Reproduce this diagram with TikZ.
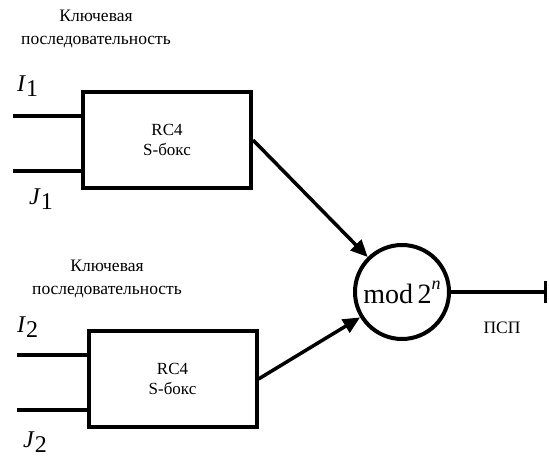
\documentclass[tikz,border=0pt]{standalone}
\usepackage{fontspec}
\setmainfont{Liberation Serif}
\usetikzlibrary{arrows.meta}
\begin{document}
\begin{tikzpicture}[x=1pt,y=-1pt,
  blk/.style={draw,line width=4pt,rectangle,minimum width=168pt,minimum height=96pt,inner sep=0pt,align=center,font=\fontsize{17}{20}\selectfont},
  lbl/.style={align=center,font=\fontsize{17.5}{23}\selectfont,inner sep=0pt},
  inp/.style={line width=4pt},
  arr/.style={line width=3.5pt,-{Triangle[length=17pt,width=15pt]}},
  var/.style={font=\fontsize{24}{24}\selectfont,inner sep=0pt,anchor=base west}]
\useasboundingbox (0,0) rectangle (549,457);
% key text
\node[lbl] (k1) at (96,29) {Ключевая\\последовательность};
\node[lbl] (k2) at (107,279) {Ключевая\\последовательность};
% boxes
\node[blk] (b1) at (167,140) {RC4\\S-бокс};
\node[blk] (b2) at (172.5,379) {RC4\\S-бокс};
% circle
\node[draw,circle,line width=4pt,minimum size=94pt,inner sep=0pt] (m) at (402,292)
  {\raisebox{-3pt}{\fontsize{28}{28}\selectfont mod\,2\raisebox{0.5em}{\fontsize{18}{18}\selectfont\itshape n}}};
% inputs
\coordinate (i1) at (13,116);
\coordinate (j1) at (13,171);
\coordinate (i2) at (17,355);
\coordinate (j2) at (17,410);
\draw[inp] (i1) -- (i1 -| b1.west);
\draw[inp] (j1) -- (j1 -| b1.west);
\draw[inp] (i2) -- (i2 -| b2.west);
\draw[inp] (j2) -- (j2 -| b2.west);
% variable labels
\node[var] (I1) at (17,92) {\textit{I}\raisebox{-5pt}{1}};
\node[var] (J1) at (29,205) {\textit{J}\raisebox{-5pt}{1}};
\node[var] (I2) at (17,332) {\textit{I}\raisebox{-5pt}{2}};
\node[var] (J2) at (23,447) {\textit{J}\raisebox{-5pt}{2}};
% arrows
\draw[arr] (b1.east) -- (m);
\draw[arr] (b2.east) -- (m);
% output
\coordinate (out) at (547,292);
\draw[line width=4pt,-{Bar[width=22pt,line width=3pt]}] (m.east) -- (out);
\node[lbl] (psp) at (502,328) {ПСП};
\end{tikzpicture}
\end{document}
